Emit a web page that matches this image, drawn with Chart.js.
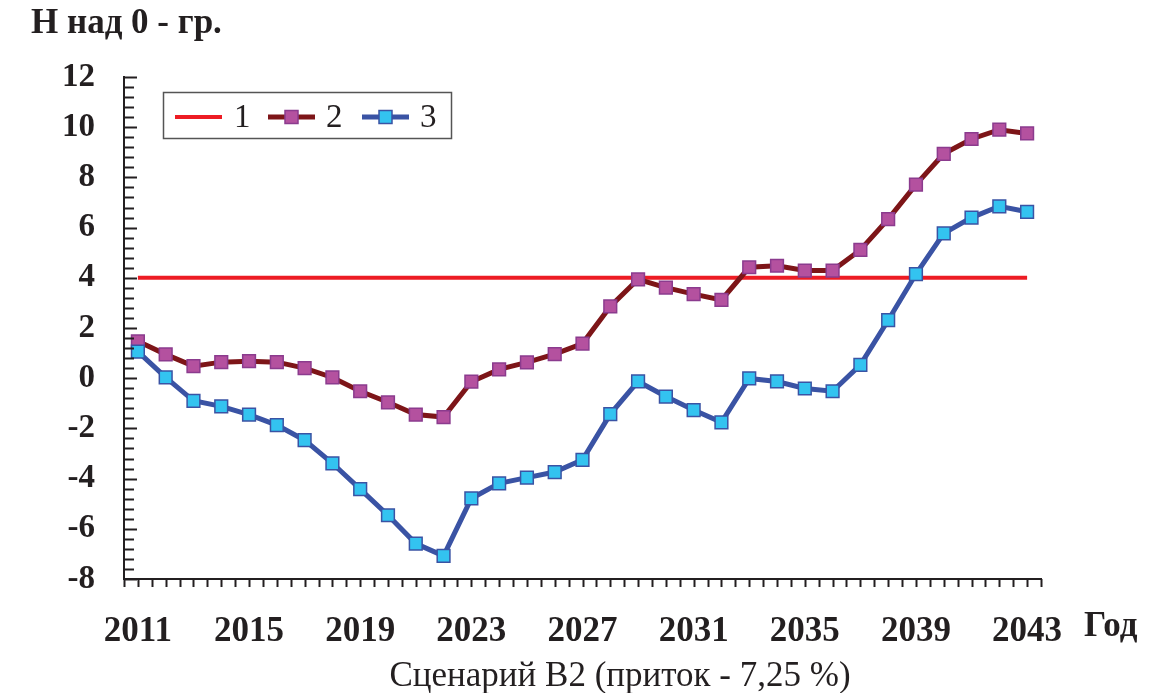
<!DOCTYPE html>
<html>
<head>
<meta charset="utf-8">
<script src="https://cdn.jsdelivr.net/npm/chart.js@4.4.1/dist/chart.umd.min.js"></script>
<style>
  body { margin: 0; background: #fff; }
  #wrap { width: 1170px; height: 693px; position: relative; }
</style>
</head>
<body>
<div id="wrap"><canvas id="myChart"></canvas></div>
<script>
// Данные
var years = ['2011', '2012', '2013', '2014', '2015', '2016', '2017', '2018', '2019', '2020', '2021',
  '2022', '2023', '2024', '2025', '2026', '2027', '2028', '2029', '2030', '2031', '2032',
  '2033', '2034', '2035', '2036', '2037', '2038', '2039', '2040', '2041', '2042', '2043'];
var xTickLabels = ['2011', '2015', '2019', '2023', '2027', '2031', '2035', '2039', '2043'];
var levelYears = ['2011', '2043'];
var levelValues = [4, 4];
var series2 = [1.47, 0.95, 0.48, 0.64, 0.68, 0.64, 0.40, 0.03, -0.52, -0.96, -1.45, -1.55,
  -0.14, 0.35, 0.63, 0.96, 1.38, 2.86, 3.94, 3.61, 3.35, 3.12,
  4.42, 4.48, 4.29, 4.29, 5.11, 6.34, 7.71, 8.94, 9.53, 9.90, 9.75];
var series3 = [1.06, 0.03, -0.90, -1.12, -1.45, -1.87, -2.47, -3.39, -4.42, -5.46, -6.59, -7.08,
  -4.79, -4.19, -3.96, -3.74, -3.25, -1.43, -0.13, -0.73, -1.27, -1.76,
  -0.01, -0.13, -0.41, -0.52, 0.53, 2.31, 4.15, 5.77, 6.40, 6.85, 6.63];
var seriesNames = ['1', '2', '3'];

var serif = '"Liberation Serif", "Times New Roman", serif';
var ink = '#231f20';

// засечки, легенда и подписи
var decor = {
  id: 'decor',
  afterDraw: function(chart) {
    var ctx = chart.ctx;
    var y = chart.scales.y;
    var a = chart.chartArea;
    ctx.save();
    ctx.strokeStyle = ink;
    ctx.lineWidth = 2;
    // засечки по Y: каждые 0.4
    for (var i = 0; i <= 50; i++) {
      var py = Math.round(y.getPixelForValue(y.min + i * 0.4)) + 0.5;
      ctx.beginPath();
      ctx.moveTo(a.left, py);
      ctx.lineTo(a.left + (i % 5 === 0 ? 13 : 10), py);
      ctx.stroke();
    }
    // засечки по X: на границах и серединах
    var step = (a.right - a.left) / (years.length * 2);
    for (var j = 0; j <= years.length * 2; j++) {
      var px = Math.round(a.left + j * step) + 0.5;
      ctx.beginPath();
      ctx.moveTo(px, a.bottom);
      ctx.lineTo(px, a.bottom + 8);
      ctx.stroke();
    }

    // легенда
    ctx.lineWidth = 1.5;
    ctx.strokeStyle = '#555';
    ctx.strokeRect(163.5, 92.5, 288, 46);
    var items = [[175, 234], [268, 326], [362, 420]];
    chart.data.datasets.forEach(function(ds, k) {
      var lx = items[k][0], ly = 117;
      ctx.strokeStyle = ds.borderColor;
      ctx.lineWidth = ds.borderWidth;
      ctx.beginPath();
      ctx.moveTo(lx, ly);
      ctx.lineTo(lx + 47, ly);
      ctx.stroke();
      if (ds.pointRadius > 0) {
        ctx.fillStyle = ds.pointBackgroundColor;
        ctx.strokeStyle = ds.pointBorderColor;
        ctx.lineWidth = 1.5;
        ctx.fillRect(lx + 17, ly - 6.5, 13, 13);
        ctx.strokeRect(lx + 17, ly - 6.5, 13, 13);
      }
      ctx.fillStyle = ink;
      ctx.font = '33px ' + serif;
      ctx.textBaseline = 'middle';
      ctx.textAlign = 'left';
      ctx.fillText(ds.label, items[k][1], ly + 1);
    });

    // заголовки
    ctx.fillStyle = ink;
    ctx.textBaseline = 'middle';
    ctx.textAlign = 'left';
    ctx.font = 'bold 35px ' + serif;
    ctx.fillText('Н над 0 - гр.', 31, 24);
    ctx.font = 'bold 35px ' + serif;
    ctx.fillText('Год', 1084, 627);
    ctx.textAlign = 'center';
    ctx.font = '35px ' + serif;
    ctx.fillText('Сценарий B2 (приток - 7,25 %)', 620, 677);
    ctx.restore();
  }
};

new Chart('myChart', {
  type: 'line',
  data: {
    labels: years,
    datasets: [{
      label: seriesNames[0],
      data: levelYears.map(function(yr, i) { return {x: yr, y: levelValues[i]}; }),
      borderColor: '#ed1c24',
      borderWidth: 4,
      pointRadius: 0,
      order: 3
    }, {
      label: seriesNames[1],
      data: series2,
      borderColor: '#7d1518',
      borderWidth: 5,
      pointStyle: 'rect',
      pointRadius: 9,
      pointBackgroundColor: '#b4519f',
      pointBorderColor: '#8b3b8e',
      pointBorderWidth: 1.5,
      order: 2
    }, {
      label: seriesNames[2],
      data: series3,
      borderColor: '#3a53a4',
      borderWidth: 5,
      pointStyle: 'rect',
      pointRadius: 9,
      pointBackgroundColor: '#33c3f0',
      pointBorderColor: '#3a53a4',
      pointBorderWidth: 1.5,
      order: 1
    }]
  },
  options: {
    responsive: true,
    maintainAspectRatio: false,
    animation: false,
    layout: { padding: { top: 77, right: 129, bottom: 0, left: 0 } },
    plugins: {
      legend: { display: false },
      tooltip: { enabled: false }
    },
    scales: {
      x: {
        type: 'category',
        offset: true,
        grid: { display: false, drawTicks: false },
        border: { display: true, color: ink, width: 2 },
        ticks: {
          autoSkip: false,
          maxRotation: 0,
          padding: 32,
          color: ink,
          font: { family: serif, size: 35, weight: 'bold' },
          callback: function(v, i) {
            return xTickLabels.indexOf(years[i]) >= 0 ? years[i] : '';
          }
        },
        afterFit: function(s) { s.height = 693 - 579; }
      },
      y: {
        min: -8,
        max: 12,
        grid: { display: false, drawTicks: false },
        border: { display: true, color: ink, width: 2 },
        ticks: {
          stepSize: 2,
          padding: 29,
          color: ink,
          font: { family: serif, size: 33, weight: 'bold' },
          callback: function(v) { return String(v); }
        },
        afterFit: function(s) { s.width = 124; }
      }
    }
  },
  plugins: [decor]
});
</script>
</body>
</html>
